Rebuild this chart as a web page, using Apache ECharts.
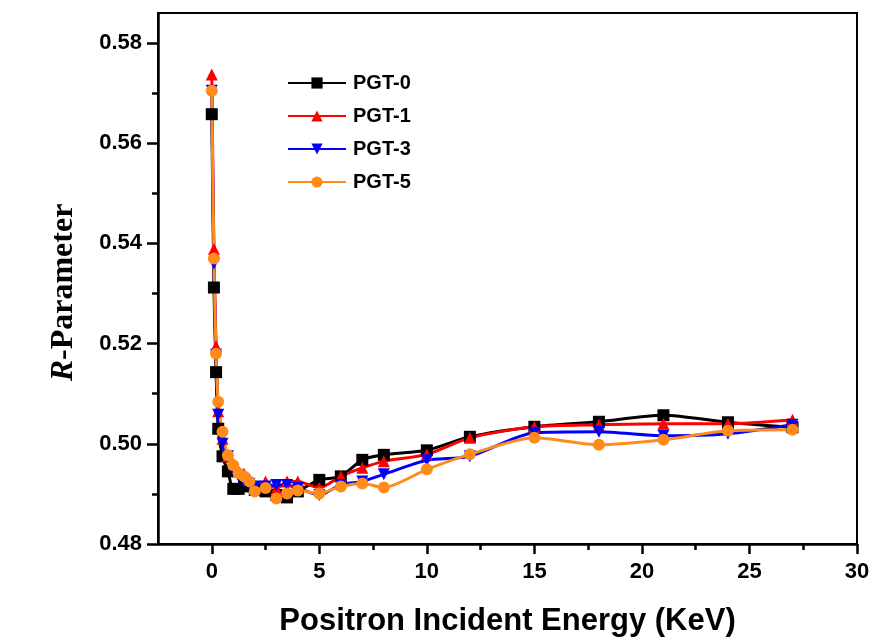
<!DOCTYPE html>
<html>
<head>
<meta charset="utf-8">
<script src="https://cdn.jsdelivr.net/npm/echarts@6/dist/echarts.min.js"></script>
<style>
html,body{margin:0;padding:0;background:#fff;}
#chart{width:888px;height:642px;}
</style>
</head>
<body>
<div id="chart"></div>
<script>
// ---- data ----
const energies = [0, 0.1, 0.2, 0.3, 0.5, 0.75, 1, 1.25, 1.5, 1.75, 2, 2.5, 3, 3.5, 4, 5, 6, 7, 8, 10, 12, 15, 18, 21, 24, 27];
const pgt0 = [0.5658, 0.5312, 0.5143, 0.5030, 0.4975, 0.4945, 0.4910, 0.4910, 0.4925, 0.4915, 0.4908, 0.4905, 0.4898, 0.4893, 0.4905, 0.4928, 0.4935, 0.4968, 0.4978, 0.4987, 0.5014, 0.5034, 0.5044, 0.5057, 0.5043, 0.5033];
const pgt1 = [0.5737, 0.5389, 0.5195, 0.5065, 0.5010, 0.4975, 0.4960, 0.4945, 0.4940, 0.4930, 0.4915, 0.4925, 0.4910, 0.4925, 0.4925, 0.4912, 0.4935, 0.4952, 0.4965, 0.4979, 0.5012, 0.5034, 0.5038, 0.5040, 0.5040, 0.5048];
const pgt3 = [0.5705, 0.5360, 0.5178, 0.5058, 0.5000, 0.4975, 0.4948, 0.4935, 0.4925, 0.4920, 0.4915, 0.4915, 0.4918, 0.4918, 0.4912, 0.4898, 0.4918, 0.4925, 0.4939, 0.4967, 0.4975, 0.5022, 0.5024, 0.5016, 0.5020, 0.5038];
const pgt5 = [0.5705, 0.5370, 0.5180, 0.5084, 0.5024, 0.4977, 0.4957, 0.4941, 0.4935, 0.4925, 0.4905, 0.4912, 0.4891, 0.4901, 0.4907, 0.4901, 0.4915, 0.4921, 0.4913, 0.4949, 0.4979, 0.5012, 0.4998, 0.5008, 0.5026, 0.5028];
const seriesNames = ['PGT-0', 'PGT-1', 'PGT-3', 'PGT-5'];
const xMajorTicks = [0, 5, 10, 15, 20, 25, 30];
const xMinorTicks = [2.5, 7.5, 12.5, 17.5, 22.5, 27.5];
const yMajorTicks = [0.48, 0.50, 0.52, 0.54, 0.56, 0.58];
const yMinorTicks = [0.49, 0.51, 0.53, 0.55, 0.57];
const xTitle = 'Positron Incident Energy (KeV)';

function pairs(ys){ return energies.map((e,i)=>[e, ys[i]]); }

const chart = echarts.init(document.getElementById('chart'), null, {renderer:'canvas'});
const labelFont = {fontFamily:'Liberation Sans, Arial, sans-serif', fontWeight:'bold', fontSize:22, color:'#000'};

function mkSeries(name, ys, color, symbol, rot){
  return {
    name, type:'line', data:pairs(ys), smooth:0.25,
    xAxisIndex:0, yAxisIndex:0,
    symbol, symbolSize:12, symbolRotate:rot||0,
    lineStyle:{color, width:3},
    itemStyle:{color, borderWidth:0},
    emphasis:{disabled:true}
  };
}

const option = {
  animation:false,
  backgroundColor:'#fff',
  grid:{left:158, right:31, top:13, bottom:89, show:true, borderColor:'#000', borderWidth:2, backgroundColor:'transparent'},
  legend:{
    left:282, top:68, orient:'vertical', itemWidth:58, itemHeight:14, itemGap:13,
    data:seriesNames,
    textStyle:{fontFamily:'Liberation Sans, Arial, sans-serif', fontWeight:'bold', fontSize:20, color:'#000', padding:[0,0,0,2]},
    itemStyle:{borderWidth:0}
  },
  xAxis:[{
    type:'value', min:-2.5, max:30,
    axisLine:{show:true, onZero:false, lineStyle:{color:'#000', width:2.5}},
    axisTick:{show:true, inside:false, length:10, lineStyle:{color:'#000', width:2.5}, customValues:xMajorTicks},
    axisLabel:{...labelFont, margin:17, customValues:xMajorTicks, formatter:v=>String(v)},
    splitLine:{show:false},
    name:xTitle, nameLocation:'middle', nameGap:62,
    nameTextStyle:{fontFamily:'Liberation Sans, Arial, sans-serif', fontWeight:'bold', fontSize:31, color:'#000'}
  },{
    type:'value', min:-2.5, max:30, position:'bottom',
    axisLine:{show:false, onZero:false},
    axisTick:{show:true, inside:false, length:6, lineStyle:{color:'#000', width:2.5}, customValues:xMinorTicks},
    axisLabel:{show:false},
    splitLine:{show:false}
  }],
  yAxis:[{
    type:'value', min:0.48, max:0.586,
    axisLine:{show:true, onZero:false, lineStyle:{color:'#000', width:2.5}},
    axisTick:{show:true, inside:false, length:11, lineStyle:{color:'#000', width:2.5}, customValues:yMajorTicks},
    axisLabel:{...labelFont, margin:16, customValues:yMajorTicks, formatter:v=>v.toFixed(2)},
    splitLine:{show:false},
    name:'{i|R}{n|-Parameter}', nameLocation:'middle', nameGap:78, nameRotate:90,
    nameTextStyle:{
      padding:[0, 28, 0, 0],
      rich:{
        i:{fontFamily:'Liberation Serif, Times New Roman, serif', fontWeight:'bold', fontStyle:'italic', fontSize:32, color:'#000'},
        n:{fontFamily:'Liberation Serif, Times New Roman, serif', fontWeight:'bold', fontSize:32, color:'#000'}
      }
    }
  },{
    type:'value', min:0.48, max:0.586, position:'left',
    axisLine:{show:false, onZero:false},
    axisTick:{show:true, inside:false, length:6, lineStyle:{color:'#000', width:2.5}, customValues:yMinorTicks},
    axisLabel:{show:false},
    splitLine:{show:false}
  }],
  series:[
    mkSeries('PGT-0', pgt0, '#000000', 'rect', 0),
    mkSeries('PGT-1', pgt1, '#ff0000', 'triangle', 0),
    mkSeries('PGT-3', pgt3, '#0000ff', 'triangle', 180),
    mkSeries('PGT-5', pgt5, '#ff8c1a', 'circle', 0)
  ]
};
chart.setOption(option);
</script>
</body>
</html>
